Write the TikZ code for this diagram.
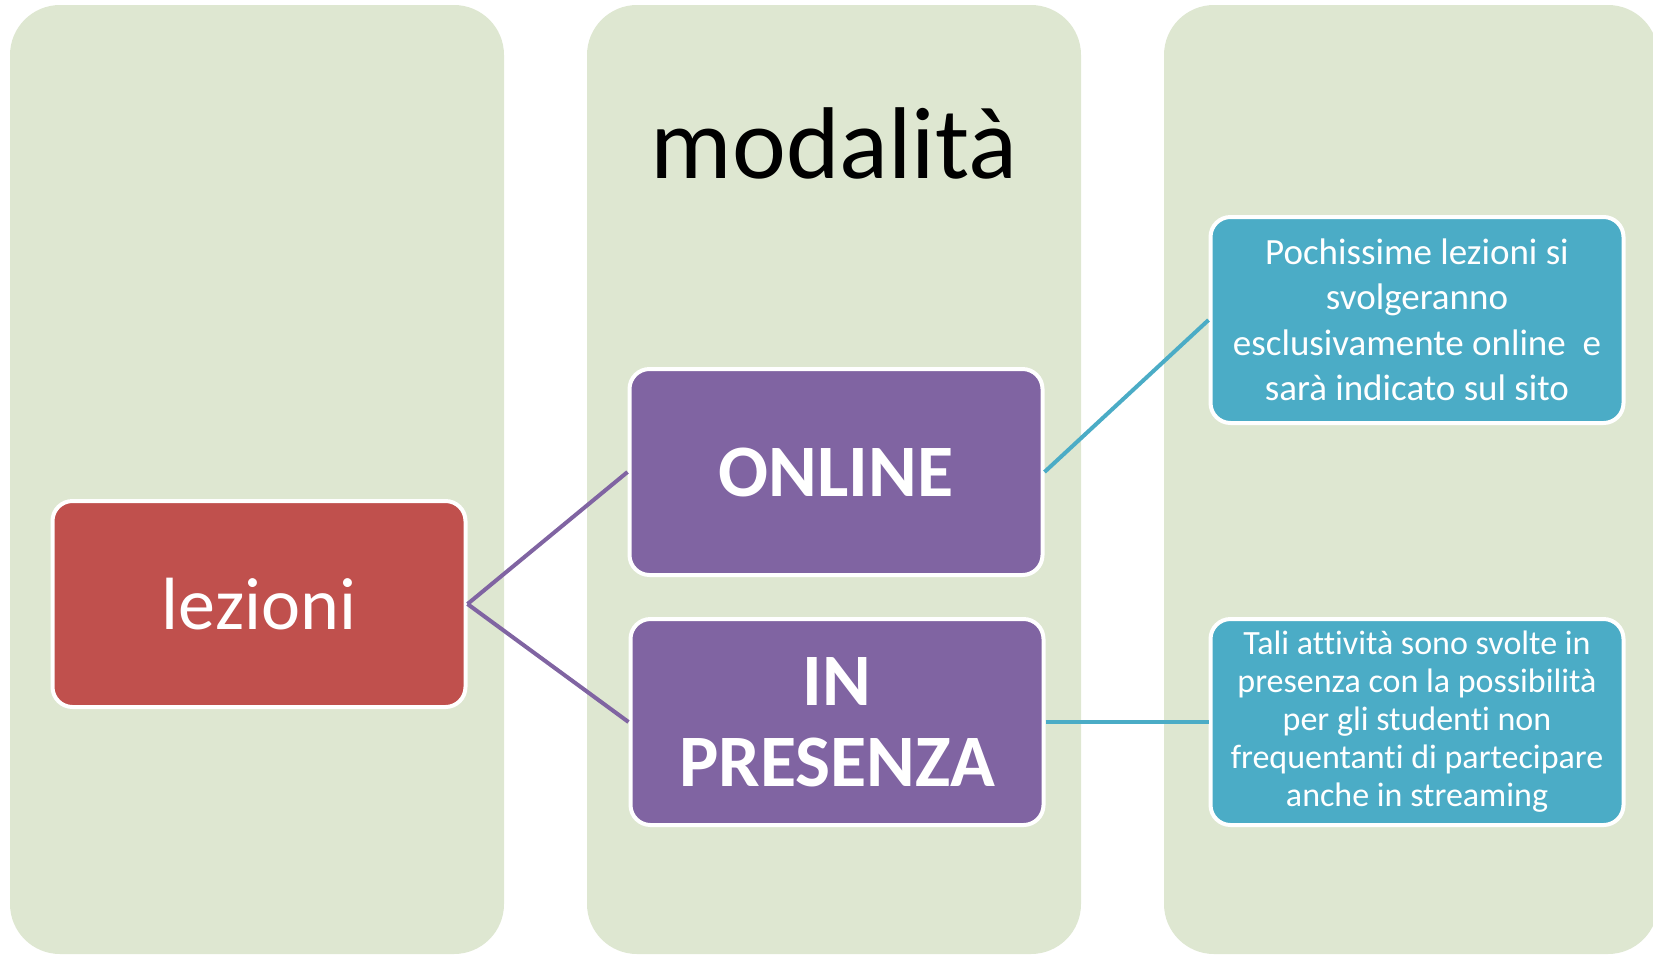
\documentclass[tikz,border=0pt]{standalone}
\usepackage{fontspec}
\setmainfont[Ligatures=NoCommon]{Carlito}
\usetikzlibrary{shapes,arrows}
\definecolor{colgreen}{RGB}{222,231,209}
\definecolor{boxred}{RGB}{192,80,77}
\definecolor{boxpurple}{RGB}{128,100,162}
\definecolor{boxblue}{RGB}{75,172,198}

\begin{document}
\begin{tikzpicture}[x=1pt,y=-1pt]
		\tikzstyle {column} = [fill=colgreen, rounded corners=50pt]
		\tikzstyle {box} = [draw=white, line width=4pt, rounded corners=20pt, text=white, align=center, inner sep=0pt, minimum width=413pt, minimum height=206pt]
		\tikzstyle {purple line} = [draw=boxpurple, line width=4pt]
		\tikzstyle {blue line} = [draw=boxblue, line width=4pt]

		\clip (0,0) rectangle (1653,954);

		\fill[column] (10,5) rectangle (504,954);
		\fill[column] (587,5) rectangle (1081,954);
		\fill[column] (1164,5) rectangle (1658,954);

		\node[anchor=base, font=\fontsize{102}{120}\selectfont] (titolo) at (834,178) {modalità};

		\node[box, fill=boxred, font=\fontsize{74}{88}\selectfont] (lezioni) at (259,604) {lezioni};
		\node[box, fill=boxpurple, font=\fontsize{74}{81}\selectfont\bfseries] (online) at (836,472) {ONLINE};
		\node[box, fill=boxpurple, font=\fontsize{74}{81}\selectfont\bfseries] (presenza) at (837,722) {IN\\PRESENZA};

		\node[box, fill=boxblue, font=\fontsize{37}{45.5}\selectfont] (pochissime) at (1417,320) {Pochissime lezioni si\\svolgeranno\\esclusivamente online\ \ e\\sarà indicato sul sito};
		\node[box, fill=boxblue, font=\fontsize{34}{38}\selectfont] (tali) at (1417,722) {Tali attività sono svolte in\\presenza con la possibilità\\per gli studenti non\\frequentanti di partecipare\\anche in streaming};

		\draw[purple line] (lezioni.east) -- (online.west);
		\draw[purple line] (lezioni.east) -- (presenza.west);
		\draw[blue line] (online.east) -- (pochissime.west);
		\draw[blue line] (presenza.east) -- (tali.west);
	\end{tikzpicture}
\end{document}
